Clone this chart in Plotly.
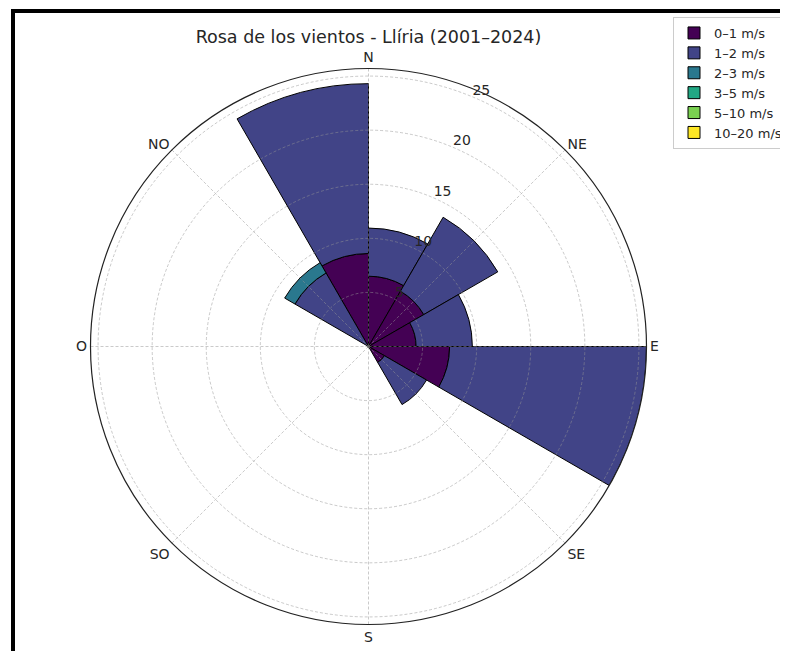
import plotly.graph_objects as go

# ---- data -------------------------------------------------------------
# Sector start angles (degrees, clockwise from North), 30° bins
sectors = [0, 30, 60, 90, 120, 150, 180, 210, 240, 270, 300, 330]
speed_bins = ["0–1 m/s", "1–2 m/s", "2–3 m/s", "3–5 m/s", "5–10 m/s", "10–20 m/s"]
bin_colors = ["#440154", "#414487", "#2a788e", "#22a884", "#7ad151", "#fde725"]

# Frequency (%) per sector for each speed bin
freq_0_1 = [6.5, 5.9, 4.4, 7.5, 1.7, 0, 0, 0, 0, 0, 0.0, 8.6]
freq_1_2 = [4.45, 7.9, 5.2, 18.2, 4.5, 0, 0, 0, 0, 0, 7.85, 15.7]
freq_2_3 = [0, 0, 0, 0, 0, 0, 0, 0, 0, 0, 1.1, 0]
freq_3_5 = [0, 0, 0, 0, 0, 0, 0, 0, 0, 0, 0, 0]
freq_5_10 = [0, 0, 0, 0, 0, 0, 0, 0, 0, 0, 0, 0]
freq_10_20 = [0, 0, 0, 0, 0, 0, 0, 0, 0, 0, 0, 0]
series = [freq_0_1, freq_1_2, freq_2_3, freq_3_5, freq_5_10, freq_10_20]

dir_angles = [0, 45, 90, 135, 180, 225, 270, 315]
dir_labels = ["N", "NE", "E", "SE", "S", "SO", "O", "NO"]
r_ticks = [5, 10, 15, 20, 25]
r_max = 25.7
sector_width = 30

title_text = "Rosa de los vientos - Llíria (2001–2024)"

# ---- figure -----------------------------------------------------------
# page has an 8px body margin; figure sized to fit the 788x651 window
OFF = 8
W, H = 788 - OFF, 651 - OFF
FONT = "DejaVu Sans"
TXT = "#262626"

fig = go.Figure()
for name, vals, col in zip(speed_bins, series, bin_colors):
    fig.add_trace(go.Barpolar(
        r=vals, theta=sectors, width=sector_width, offset=0,
        name=name, marker=dict(color=col, line=dict(color="black", width=1)),
        subplot="polar",
    ))

# dummy trace so that the overlay subplot (grid above bars) is drawn
fig.add_trace(go.Scatterpolar(r=[0], theta=[0], mode="markers",
                              marker=dict(size=3, color="rgba(90,90,90,0.8)"),
                              showlegend=False, hoverinfo="skip", subplot="polar2"))

cx, cy, R = 368.5 - OFF, 346.5 - OFF, 278
dom_x = [(cx - R) / W, (cx + R) / W]
dom_y = [(H - (cy + R)) / H, (H - (cy - R)) / H]

grid_col = "rgba(150,150,150,0.5)"

common_ang = dict(rotation=90, direction="clockwise", thetaunit="degrees")

fig.update_layout(
    width=W, height=H,
    margin=dict(l=0, r=0, t=0, b=0),
    paper_bgcolor="white",
    font=dict(family=FONT, color=TXT),
    title=dict(text=title_text, x=cx / W, xanchor="center",
               y=1 - (37 - OFF) / H, yanchor="middle",
               font=dict(size=17.5, family=FONT, color=TXT)),
    polar=dict(
        domain=dict(x=dom_x, y=dom_y),
        bgcolor="white",
        barmode="stack",
        radialaxis=dict(range=[0, r_max], showgrid=False, showline=False,
                        showticklabels=False, ticks=""),
        angularaxis=dict(showgrid=False, showline=False, showticklabels=False,
                         ticks="", **common_ang),
    ),
    polar2=dict(
        domain=dict(x=dom_x, y=dom_y),
        bgcolor="rgba(0,0,0,0)",
        radialaxis=dict(range=[0, r_max], tickmode="array", tickvals=r_ticks,
                        ticktext=[f"{t}<br> " for t in r_ticks],
                        showgrid=True, gridcolor=grid_col, griddash="3px,2px", gridwidth=0.8,
                        showline=False, ticks="", angle=69, side="clockwise",
                        tickangle=69,
                        tickfont=dict(size=14, family=FONT, color=TXT)),
        angularaxis=dict(tickmode="array", tickvals=dir_angles, ticktext=dir_labels,
                         showgrid=True, gridcolor=grid_col, griddash="3px,2px", gridwidth=0.8,
                         showline=True, linecolor="#222222", linewidth=1.2, ticks="",
                         tickfont=dict(size=14, family=FONT, color=TXT), **common_ang),
    ),
    legend=dict(x=1.0, xanchor="right", y=1 - (17 - OFF) / H, yanchor="top",
                bgcolor="white", bordercolor="#cccccc", borderwidth=1,
                font=dict(size=13, family=FONT, color=TXT), tracegroupgap=0),
    shapes=[
        dict(type="line", xref="paper", yref="paper", x0=(13 - OFF) / W, x1=(13 - OFF) / W,
             y0=0, y1=1 - (9 - OFF) / H, line=dict(color="black", width=4)),
        dict(type="line", xref="paper", yref="paper", x0=(11 - OFF) / W, x1=1,
             y0=1 - (11 - OFF) / H, y1=1 - (11 - OFF) / H, line=dict(color="black", width=4)),
    ],
)

fig.write_html("out.html")
